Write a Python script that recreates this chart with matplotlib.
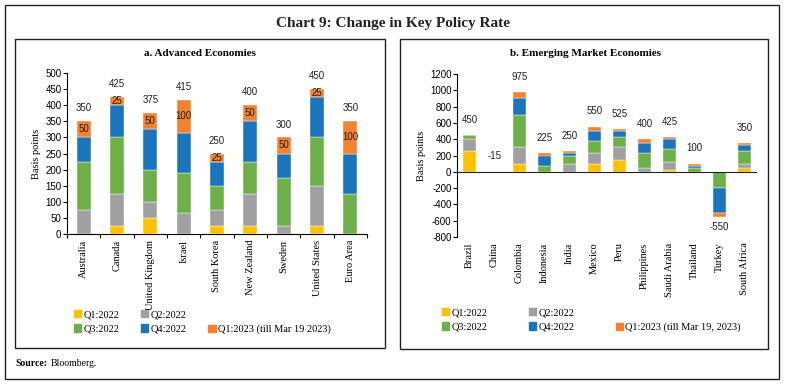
import matplotlib.pyplot as plt
from matplotlib.patches import Rectangle, Patch
import numpy as np

plt.rcParams['axes.unicode_minus'] = False

# Panel a: advanced economies (basis points)
adv_countries = ['Australia', 'Canada', 'United Kingdom', 'Israel', 'South Korea',
                 'New Zealand', 'Sweden', 'United States', 'Euro Area']
adv_q1_22 = [0, 25, 50, 0, 25, 25, 0, 25, 0]
adv_q2_22 = [75, 100, 50, 65, 50, 100, 25, 125, 0]
adv_q3_22 = [150, 175, 100, 125, 75, 100, 150, 150, 125]
adv_q4_22 = [75, 100, 125, 125, 75, 125, 75, 125, 125]
adv_q1_23 = [50, 25, 50, 100, 25, 50, 50, 25, 100]

# Panel b: emerging market economies (basis points)
eme_countries = ['Brazil', 'China', 'Colombia', 'Indonesia', 'India', 'Mexico', 'Peru',
                 'Philippines', 'Saudi Arabia', 'Thailand', 'Turkey', 'South Africa']
eme_q1_22 = [250, -10, 100, 0, 0, 100, 150, 0, 25, 0, 0, 50]
eme_q2_22 = [150, 0, 200, 0, 90, 125, 150, 50, 100, 0, 0, 50]
eme_q3_22 = [50, -5, 400, 75, 100, 150, 125, 175, 150, 50, -200, 150]
eme_q4_22 = [0, 0, 200, 125, 35, 125, 75, 125, 125, 25, -300, 75]
eme_q1_23 = [0, 0, 75, 25, 25, 50, 25, 50, 25, 25, -50, 25]

colors = ['#FFC000', '#A0A0A0', '#6DB04A', '#1B74BC', '#F5822F']
serif = 'Liberation Serif'
sans = 'Liberation Sans'

fig = plt.figure(figsize=(7.85, 3.86), dpi=100)


def frame(x0, y0, x1, y1, lw=1.0):
    # rectangle in pixel coords (top-left origin)
    W, H = 785, 386
    r = Rectangle((x0 / W, 1 - y1 / H), (x1 - x0) / W, (y1 - y0) / H,
                  transform=fig.transFigure, fill=False, edgecolor='#222222', lw=lw)
    fig.add_artist(r)


frame(5, 5, 779, 379)
frame(15, 39, 385, 348)
frame(400, 39, 768, 349)

fig.text(0.5, 1 - 24 / 386, 'Chart 9: Change in Key Policy Rate', ha='center', va='center',
         fontsize=11, fontweight='bold', family=serif, color='#222222')
fig.text(15 / 785, 1 - 363 / 386, 'Source:', ha='left', va='center', fontsize=7,
         fontweight='bold', family=serif)
fig.text(51 / 785, 1 - 363 / 386, 'Bloomberg.', ha='left', va='center', fontsize=7, family=serif)


def stacked(ax, series, width):
    n = len(series[0])
    x = np.arange(n)
    pos = np.zeros(n)
    neg = np.zeros(n)
    segs = []
    for vals, c in zip(series, colors):
        vals = np.array(vals, dtype=float)
        bottom = np.where(vals >= 0, pos, neg)
        ax.bar(x, vals, width, bottom=bottom, color=c, edgecolor='white', linewidth=0.3, zorder=3)
        segs.append((bottom, vals))
        pos = pos + np.where(vals > 0, vals, 0)
        neg = neg + np.where(vals < 0, vals, 0)
    return x, segs


def style(ax, labels):
    for s in ['top', 'right']:
        ax.spines[s].set_visible(False)
    ax.spines['left'].set_linewidth(0.8)
    ax.set_xticks(np.arange(len(labels)))
    ax.set_xticklabels(labels, rotation=90, family=serif, fontsize=7.5)
    ax.tick_params(axis='x', length=0, pad=4)
    ax.tick_params(axis='y', labelsize=7, length=3, width=0.8, pad=1)
    for t in ax.get_yticklabels():
        t.set_family(sans)
    ax.set_ylabel('Basis points', family=serif, fontsize=7.5, labelpad=3)
    ax.set_xlim(-0.5, len(labels) - 0.5)


# ---- panel a
ax1 = fig.add_axes([67 / 785, 1 - 234 / 386, 300 / 785, 161 / 386])
adv_series = [adv_q1_22, adv_q2_22, adv_q3_22, adv_q4_22, adv_q1_23]
x1, segs1 = stacked(ax1, adv_series, 0.42)
ax1.set_ylim(0, 500)
ax1.set_yticks(range(0, 501, 50))
style(ax1, adv_countries)
ax1.spines['bottom'].set_linewidth(0.8)
ax1.set_xticks(np.arange(len(adv_countries) + 1) - 0.5, minor=True)
ax1.tick_params(axis='x', which='minor', length=3, width=0.8)
adv_tot = np.sum(adv_series, axis=0)
b, v = segs1[4]
for i in range(len(adv_countries)):
    ax1.text(x1[i], b[i] + v[i] / 2, str(int(v[i])), ha='center', va='center',
             fontsize=7, family=sans, color='#222222', zorder=4)
    ax1.text(x1[i], adv_tot[i] + 40, str(int(adv_tot[i])), ha='center', va='center',
             fontsize=7, family=sans, color='#222222')
fig.text(200 / 785, 1 - 53 / 386, 'a. Advanced Economies', ha='center', va='center',
         fontsize=8, fontweight='bold', family=serif)

# ---- panel b
ax2 = fig.add_axes([457 / 785, 1 - 237 / 386, 300 / 785, 163 / 386])
eme_series = [eme_q1_22, eme_q2_22, eme_q3_22, eme_q4_22, eme_q1_23]
x2, segs2 = stacked(ax2, eme_series, 0.55)
ax2.set_ylim(-800, 1200)
ax2.set_yticks(range(-800, 1201, 200))
style(ax2, eme_countries)
ax2.spines['bottom'].set_visible(False)
ax2.axhline(0, color='#222222', lw=0.8, zorder=4)
eme_tot = np.sum(eme_series, axis=0)
for i in range(len(eme_countries)):
    y = eme_tot[i] - 130 if eme_tot[i] < -100 else max(eme_tot[i], 0) + 190
    ax2.text(x2[i], y, str(int(eme_tot[i])), ha='center', va='center',
             fontsize=7, family=sans, color='#222222')
fig.text(585 / 785, 1 - 53 / 386, 'b. Emerging Market Economies', ha='center', va='center',
         fontsize=8, fontweight='bold', family=serif)

# ---- legends
names = ['Q1:2022', 'Q2:2022', 'Q3:2022', 'Q4:2022']
h = [Patch(color=c) for c in colors]
blank = Patch(color='none')
for last, cs, anchor in [('Q1:2023 (till Mar 19 2023)', 2.1, (74 / 785, 1 - 310 / 386)),
                         ('Q1:2023 (till Mar 19, 2023)', 4.0, (442 / 785, 1 - 308 / 386))]:
    handles = [h[0], h[2], h[1], h[3], blank, h[4]]
    labels = [names[0], names[2], names[1], names[3], '', last]
    fig.legend(handles, labels, loc='upper left', bbox_to_anchor=anchor, ncol=3,
               frameon=False, prop={'family': serif, 'size': 7.5},
               handlelength=0.7, handleheight=0.7, handletextpad=0.2,
               columnspacing=cs, labelspacing=0.5, borderpad=0, borderaxespad=0)

fig.savefig('out.png', dpi=100)
